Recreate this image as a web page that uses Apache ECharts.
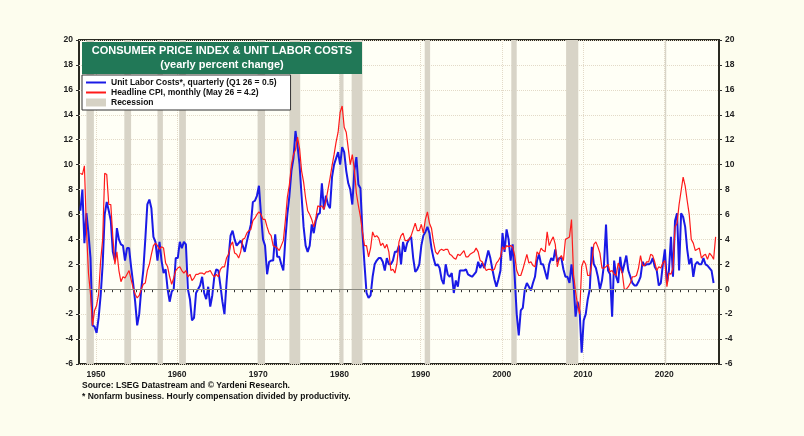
<!DOCTYPE html>
<html>
<head>
<meta charset="utf-8">
<script src="https://cdn.jsdelivr.net/npm/echarts@6/dist/echarts.min.js"></script>
<style>
  html, body { margin: 0; padding: 0; background: #fdfdee; }
  #main { width: 804px; height: 436px; }
</style>
</head>
<body>
<div id="main"></div>
<script>
// unit labor costs, yoy %, quarterly from 1948 Q1
const ulc = [
  6.3, 8.0, 3.7, 6.1,   4.5, 2.5, -2.9, -3.0,  -3.5, -2.3, -0.5, 2.0,  6.0, 7.0, 6.3, 5.5,
  3.0, 2.3, 4.9, 4.0,   3.6, 3.5, 2.3, 3.3,    3.3, 1.8, 0.5, -1.0,   -2.9, -2.0, 0.0, 1.5,
  4.0, 6.8, 7.2, 6.5,   4.2, 3.8, 2.3, 3.8,    2.3, 1.3, 1.6, 0.0,    -1.0, -0.2, 0.0, 2.5,
  2.5, 3.8, 3.3, 3.8,   3.6, 0.0, -0.8, -2.5,  -2.3, -0.3, 0.0, 0.3,  1.0, -0.3, -0.8, 0.2,
  -1.4, -0.5, 1.0, 1.6, 1.5, 0.3, -1.0, -2.0,  0.5, 2.5, 4.3, 4.7,    4.0, 3.5, 3.7, 3.9,
  3.5, 3.0, 3.8, 4.5,   5.2, 7.0, 7.1, 7.5,    8.3, 6.0, 4.0, 3.5,    1.2, 2.2, 2.3, 2.3,
  4.4, 2.6, 2.6, 2.0,   1.5, 4.0, 6.0, 7.5,    9.5, 10.5, 12.7, 11.5, 10.0, 7.5, 5.0, 3.5,
  3.0, 3.5, 5.2, 4.5,   5.5, 6.0, 6.1, 8.5,    6.4, 7.5, 6.8, 6.5,    9.0, 10.0, 10.5, 11.0,
  10.0, 11.4, 11.0, 9.5, 8.5, 8.0, 6.8, 9.5,   10.6, 8.4, 8.1, 4.5,   2.0, -0.3, -0.7, -0.5,
  1.0, 2.0, 2.3, 2.5,   2.5, 2.2, 1.5, 2.5,    2.0, 2.0, 2.3, 3.0,    3.0, 3.5, 2.0, 3.8,
  3.0, 3.7, 4.0, 4.2,   2.5, 1.4, 1.6, 2.0,    3.5, 4.3, 4.6, 5.0,    4.5, 3.3, 2.5, 1.9,
  2.0, 1.7, 0.8, 0.4,   2.0, 1.2, 1.0, 1.3,    -0.3, 0.7, 0.2, 1.5,   1.5, 1.5, 1.6, 1.2,
  1.1, 1.0, 1.2, 1.4,   2.2, 1.7, 2.1, 1.7,    2.4, 3.1, 2.5, 1.6,    0.8, 0.2, 0.8, 1.5,
  4.5, 3.0, 4.8, 4.0,   2.3, 3.6, 1.0, -2.0,   -3.7, -1.7, -1.5, 0.0, 0.5, 0.2, -0.1, 0.5,
  1.0, 2.3, 2.8, 2.0,   2.0, 1.4, 0.8, 2.0,    2.5, 2.3, 3.2, 2.2,    2.5, 2.5, 1.6, 1.0,
  1.0, 0.5, 2.0, 0.5,   -2.2, -1.0, -1.8, -5.1, -2.5, -2.0, -0.8, 0.0, 3.4, 2.0, 1.7, 1.0,
  0.0, 0.7, 2.0, 5.2,   1.5, 1.2, -2.2, 2.3,   1.0, 0.5, 2.6, 1.3,    2.0, 2.7, 1.5, 1.0,
  0.5, 0.3, 0.3, 0.6,   1.0, 2.2, 1.9, 2.0,    2.0, 2.1, 2.5, 1.8,    1.5, 0.3, 0.5, 2.0,
  3.2, 0.5, 1.5, 4.2,   1.0, 5.5, 6.1, 1.5,    6.1, 5.8, 5.0, 3.2,    2.0, 2.5, 1.0, 2.0,
  2.2, 2.0, 2.0, 2.5,   2.0, 1.9, 1.7, 1.5,    0.5
];

// headline CPI, yoy %, mid-quarter months from 1948 Q1
const cpi = [
  9.3, 9.2, 9.9, 4.8,   1.3, -0.4, -2.9, -1.7, -1.3, -0.4, 2.3, 4.0,  9.3, 9.2, 6.8, 6.8,
  4.2, 2.0, 3.0, 1.5,   0.6, 1.0, 0.9, 1.2,    1.5, 0.8, 0.1, -0.4,   -0.7, -0.5, 0.0, 0.4,
  0.5, 1.5, 2.0, 2.8,   3.5, 3.7, 3.5, 3.2,    3.4, 3.3, 2.1, 1.8,    1.0, 0.4, 0.9, 1.5,
  1.7, 1.8, 1.5, 1.3,   1.5, 1.0, 1.2, 0.7,    0.9, 1.2, 1.2, 1.3,    1.3, 1.2, 1.4, 1.4,
  1.5, 1.2, 1.0, 1.2,   1.0, 1.6, 1.8, 1.8,    2.5, 2.8, 3.5, 3.8,    2.9, 2.8, 2.5, 3.0,
  4.0, 4.1, 4.5, 4.7,   4.8, 5.5, 5.7, 6.0,    6.2, 6.0, 5.6, 5.6,    5.0, 4.5, 4.3, 3.5,
  3.4, 3.3, 3.1, 3.5,   3.9, 5.5, 7.4, 8.4,    10.0, 10.8, 11.2, 12.2, 11.3, 9.5, 8.6, 7.3,
  6.3, 6.0, 5.6, 5.0,   5.7, 6.7, 6.6, 6.7,    6.4, 7.1, 8.0, 8.9,    9.9, 10.8, 11.8, 12.6,
  14.2, 14.7, 13.0, 12.6, 11.3, 10.0, 10.8, 9.6, 7.7, 6.7, 5.8, 4.6,  3.5, 3.5, 2.6, 3.3,
  4.6, 4.2, 4.3, 4.1,   3.5, 3.7, 3.3, 3.6,    3.0, 1.5, 1.6, 1.3,    2.1, 3.8, 4.3, 4.5,
  3.9, 3.9, 4.0, 4.3,   4.8, 5.3, 4.7, 4.7,    5.2, 4.5, 5.6, 6.2,    5.3, 4.9, 3.8, 3.0,
  2.8, 3.1, 3.2, 3.1,   3.2, 3.2, 2.8, 2.7,    2.5, 2.4, 2.8, 2.7,    2.9, 3.1, 2.6, 2.6,
  2.8, 2.9, 3.0, 3.3,   3.0, 2.3, 2.2, 1.8,    1.5, 1.6, 1.6, 1.5,    1.6, 2.1, 2.3, 2.6,
  3.4, 3.2, 3.5, 3.4,   3.5, 3.4, 2.7, 1.5,    1.1, 1.1, 1.6, 2.2,    2.8, 2.1, 2.2, 1.9,
  1.8, 3.0, 2.8, 3.3,   3.1, 3.0, 4.6, 3.5,    3.9, 4.2, 3.6, 1.8,    2.5, 2.7, 2.3, 4.0,
  4.1, 4.2, 5.6, 1.2,   -0.2, -1.3, -2.0, 1.8, 2.3, 2.0, 1.1, 1.1,    2.1, 3.6, 3.8, 3.4,
  2.9, 1.7, 1.7, 1.8,   2.0, 1.4, 1.5, 1.2,    1.1, 2.1, 1.7, 1.3,    0.0, 0.0, 0.2, 0.5,
  1.0, 1.0, 1.1, 1.7,   2.7, 1.9, 1.9, 2.2,    2.2, 2.8, 2.7, 2.2,    1.5, 1.8, 1.7, 2.1,
  2.3, 0.2, 1.3, 1.2,   1.7, 5.0, 5.3, 6.8,    7.9, 9.0, 8.3, 7.1,    6.0, 4.0, 3.7, 3.1,
  3.2, 3.3, 2.5, 2.7,   2.8, 2.4, 2.9, 2.7,    2.4, 4.2
];

// NBER recessions, peak month to trough month
const recessions = [
  ['1948-11', '1949-10'], ['1953-07', '1954-05'], ['1957-08', '1958-04'],
  ['1960-04', '1961-02'], ['1969-12', '1970-11'], ['1973-11', '1975-03'],
  ['1980-01', '1980-07'], ['1981-07', '1982-11'], ['1990-07', '1991-03'],
  ['2001-03', '2001-11'], ['2007-12', '2009-06'], ['2020-02', '2020-04']
];

const pad = m => (m < 10 ? '0' + m : '' + m);

// monthly categories, Dec 1947 .. Oct 2026
const months = [];
for (let y = 1947; y <= 2026; y++) {
  for (let m = 1; m <= 12; m++) {
    if ((y === 1947 && m < 12) || (y === 2026 && m > 10)) continue;
    months.push(y + '-' + pad(m));
  }
}

function toQuarterMonths(values) {
  return values.map((v, i) => [(1948 + Math.floor(i / 4)) + '-' + pad((i % 4) * 3 + 2), v]);
}

const isJan = (i, v) => v.slice(5) === '01';
const isDecade = (i, v) => v.slice(5) === '01' && (+v.slice(0, 4)) % 10 === 0;

const font = 'Arial, "Liberation Sans", sans-serif';
const titleCenter = 82 + 140;

let chart = echarts.init(document.getElementById('main'));
let option = {
  backgroundColor: '#fdfdee',
  animation: false,
  textStyle: { fontFamily: font },
  grid: {
    left: 79, right: 85, top: 40, bottom: 72,
    show: true, backgroundColor: '#fffff6',
    borderColor: '#2a2a22', borderWidth: 2
  },
  legend: {
    orient: 'vertical',
    left: 82, top: 75,
    padding: [3, 14, 3, 3],
    backgroundColor: '#ffffff',
    borderColor: '#333', borderWidth: 1,
    itemWidth: 20, itemHeight: 8, itemGap: 1,
    textStyle: { fontSize: 8.5, fontWeight: 'bold', color: '#111', fontFamily: font },
    data: [
      { name: 'Unit Labor Costs*, quarterly (Q1 26 = 0.5)', itemStyle: { opacity: 0 } },
      { name: 'Headline CPI, monthly (May 26 = 4.2)', itemStyle: { opacity: 0 } },
      { name: 'Recession', icon: 'rect' }
    ]
  },
  xAxis: {
    type: 'category',
    data: months,
    boundaryGap: false,
    axisLine: { show: false },
    axisTick: { show: true, interval: isJan, length: 3, lineStyle: { color: '#333' } },
    axisLabel: {
      interval: isDecade,
      formatter: v => v.slice(0, 4),
      fontSize: 8.5, fontWeight: 'bold', color: '#222', margin: 6
    },
    splitLine: { show: true, interval: isDecade, lineStyle: { color: '#e3dac8', type: 'dotted' } }
  },
  yAxis: [
    {
      type: 'value', min: -6, max: 20, interval: 2,
      axisLine: { show: false },
      axisTick: { show: true, length: 3, lineStyle: { color: '#333' } },
      axisLabel: { fontSize: 8.5, fontWeight: 'bold', color: '#222', margin: 6 },
      splitLine: { show: true, lineStyle: { color: '#e3dac8', type: 'dotted' } }
    },
    {
      type: 'value', min: -6, max: 20, interval: 2, position: 'right',
      axisLine: { show: false },
      axisTick: { show: true, length: 3, lineStyle: { color: '#333' } },
      axisLabel: { fontSize: 8.5, fontWeight: 'bold', color: '#222', margin: 6 },
      splitLine: { show: false }
    }
  ],
  series: [
    {
      name: 'Recession',
      type: 'line',
      data: [],
      color: '#d6d2c5',
      markArea: {
        silent: true,
        itemStyle: { color: '#d8d4c7' },
        data: recessions.map(r => [{ xAxis: r[0] }, { xAxis: r[1] }])
      },
      markLine: {
        silent: true, symbol: 'none', label: { show: false },
        lineStyle: { color: '#8a8a80', width: 1, type: 'solid' },
        data: [{ yAxis: 0 }]
      }
    },
    {
      name: 'Unit Labor Costs*, quarterly (Q1 26 = 0.5)',
      type: 'line',
      data: toQuarterMonths(ulc),
      showSymbol: false, symbol: 'none',
      color: '#1a1ae6',
      lineStyle: { width: 2, color: '#1a1ae6' }
    },
    {
      name: 'Headline CPI, monthly (May 26 = 4.2)',
      type: 'line',
      data: toQuarterMonths(cpi),
      showSymbol: false, symbol: 'none',
      color: '#ff1a1a',
      lineStyle: { width: 1.2, color: '#ff1a1a' }
    }
  ],
  graphic: [
    {
      type: 'rect', left: 82, top: 42, z: 100,
      shape: { width: 280, height: 32 },
      style: { fill: '#217857' }
    },
    {
      type: 'text', x: titleCenter, y: 51, z: 101,
      style: { text: 'CONSUMER PRICE INDEX & UNIT LABOR COSTS', fill: '#fff', font: 'bold 11px ' + font, align: 'center', verticalAlign: 'middle' }
    },
    {
      type: 'text', x: titleCenter, y: 65, z: 101,
      style: { text: '(yearly percent change)', fill: '#fff', font: 'bold 11px ' + font, align: 'center', verticalAlign: 'middle' }
    },
    {
      type: 'text', left: 82, top: 381,
      style: { text: 'Source: LSEG Datastream and \u00a9 Yardeni Research.', fill: '#111', font: 'bold 8.5px ' + font }
    },
    {
      type: 'text', left: 82, top: 392,
      style: { text: '* Nonfarm business. Hourly compensation divided by productivity.', fill: '#111', font: 'bold 8.5px ' + font }
    }
  ]
};

chart.setOption(option);
</script>
</body>
</html>
